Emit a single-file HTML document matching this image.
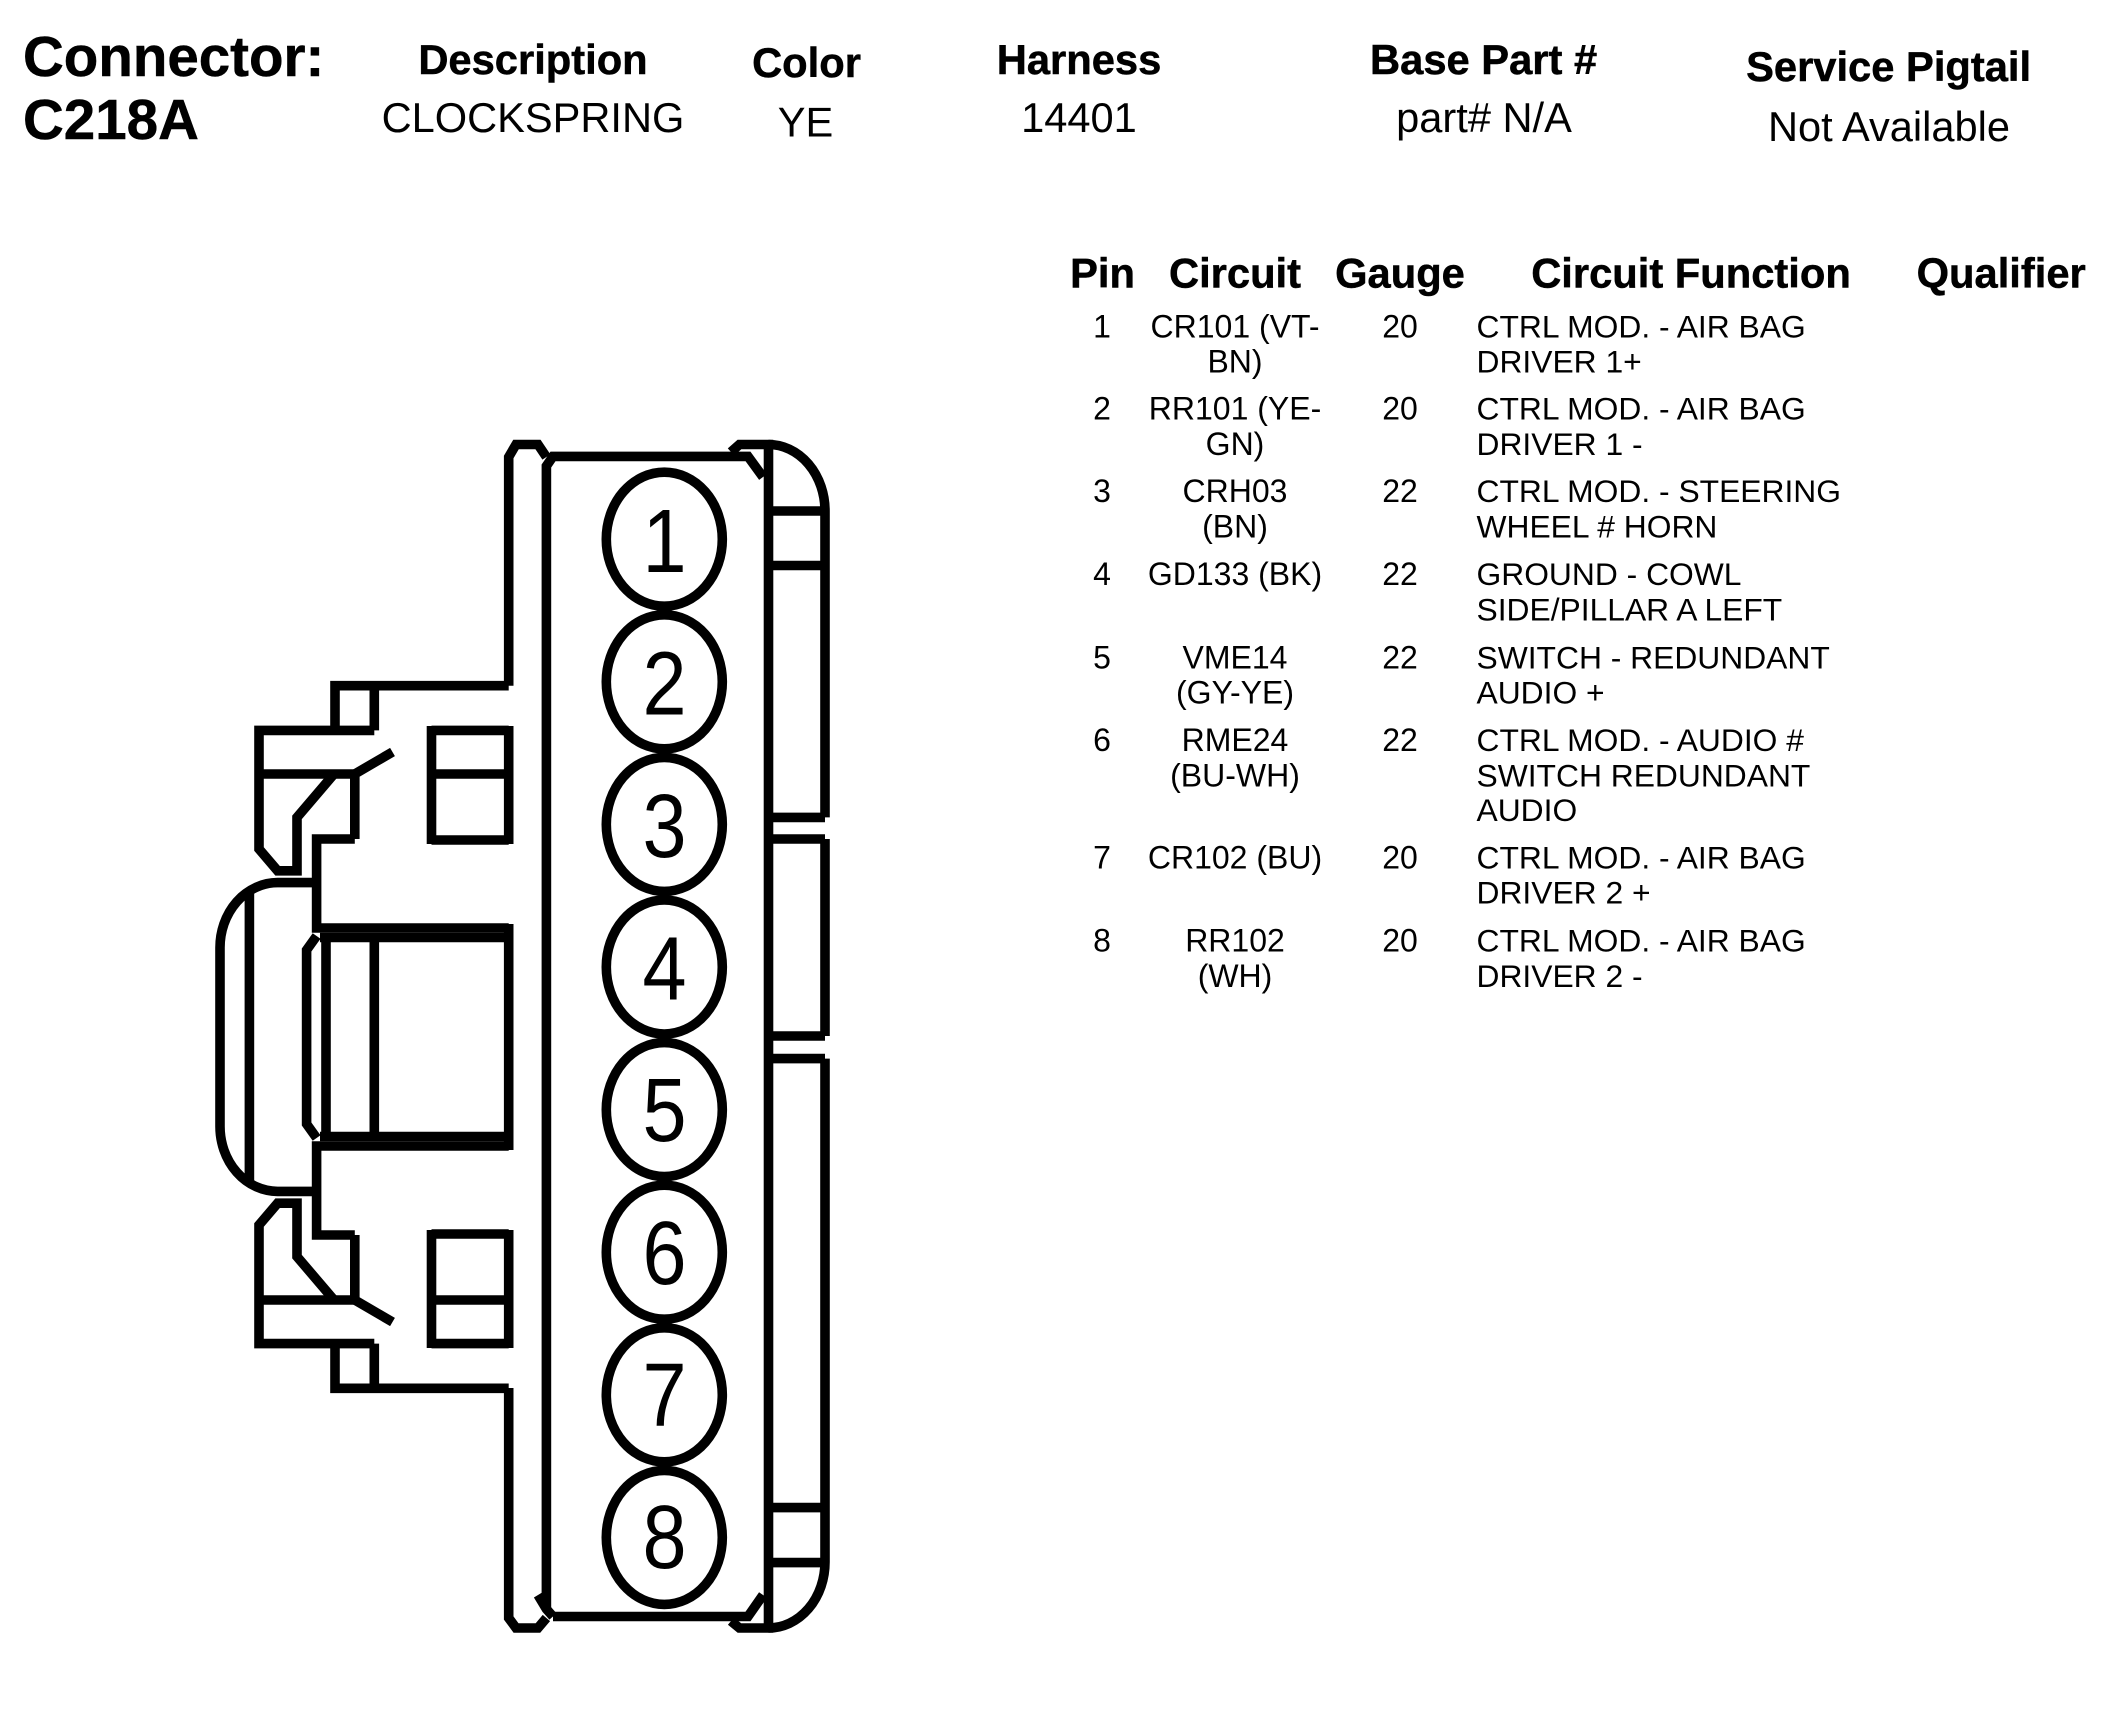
<!DOCTYPE html>
<html>
<head>
<meta charset="utf-8">
<title>Connector C218A</title>
<style>
html,body{margin:0;padding:0;background:#fff;width:2112px;height:1719px;overflow:hidden}
svg{display:block}
text{font-family:"Liberation Sans",sans-serif;fill:#000}
.b{font-weight:bold;stroke:#000;stroke-width:.5}
.h{font-size:41.7px;font-weight:bold;text-anchor:middle;stroke:#000;stroke-width:.5}
.v{font-size:41.6px;text-anchor:middle}
.t{font-size:31.8px}
.c{font-size:32px;text-anchor:middle}
.d{font-size:90px;text-anchor:middle}
.s path,.s ellipse{fill:none;stroke:#000;stroke-width:9.6;stroke-linejoin:miter;stroke-linecap:butt}
</style>
</head>
<body>
<svg width="2112" height="1719" viewBox="0 0 2112 1719" xmlns="http://www.w3.org/2000/svg">
<rect width="2112" height="1719" fill="#fff"/>

<text x="23" y="76" class="b" font-size="56.5">Connector:</text>
<text x="23" y="139" class="b" font-size="56.5">C218A</text>
<text x="533" y="74" class="h">Description</text>
<text x="533" y="132" class="v">CLOCKSPRING</text>
<text x="806.5" y="77" class="h">Color</text>
<text x="805.5" y="136.5" class="v">YE</text>
<text x="1079" y="74" class="h">Harness</text>
<text x="1079" y="132" class="v">14401</text>
<text x="1483.6" y="74" class="h">Base Part #</text>
<text x="1484" y="132" class="v">part# N/A</text>
<text x="1888.6" y="81" class="h">Service Pigtail</text>
<text x="1889" y="141" class="v">Not Available</text>

<text x="1102.5" y="287.5" class="h">Pin</text>
<text x="1235" y="287.5" class="h">Circuit</text>
<text x="1400" y="287.5" class="h">Gauge</text>
<text x="1691" y="287.5" class="h">Circuit Function</text>
<text x="2001.2" y="287.5" class="h">Qualifier</text>

<text x="1102" y="337.5" class="c">1</text>
<text x="1235" y="337.5" class="c">CR101 (VT-</text><text x="1235" y="372.5" class="c">BN)</text>
<text x="1400" y="337.5" class="c">20</text>
<text x="1476.5" y="337.5" class="t">CTRL MOD. - AIR BAG</text><text x="1476.5" y="372.5" class="t">DRIVER 1+</text>

<text x="1102" y="419.5" class="c">2</text>
<text x="1235" y="419.5" class="c">RR101 (YE-</text><text x="1235" y="455" class="c">GN)</text>
<text x="1400" y="419.5" class="c">20</text>
<text x="1476.5" y="419.5" class="t">CTRL MOD. - AIR BAG</text><text x="1476.5" y="455" class="t">DRIVER 1 -</text>

<text x="1102" y="502" class="c">3</text>
<text x="1235" y="502" class="c">CRH03</text><text x="1235" y="537.5" class="c">(BN)</text>
<text x="1400" y="502" class="c">22</text>
<text x="1476.5" y="502" class="t">CTRL MOD. - STEERING</text><text x="1476.5" y="537.5" class="t">WHEEL # HORN</text>

<text x="1102" y="585" class="c">4</text>
<text x="1235" y="585" class="c">GD133 (BK)</text>
<text x="1400" y="585" class="c">22</text>
<text x="1476.5" y="585" class="t">GROUND - COWL</text><text x="1476.5" y="620.5" class="t">SIDE/PILLAR A LEFT</text>

<text x="1102" y="668.5" class="c">5</text>
<text x="1235" y="668.5" class="c">VME14</text><text x="1235" y="703.5" class="c">(GY-YE)</text>
<text x="1400" y="668.5" class="c">22</text>
<text x="1476.5" y="668.5" class="t">SWITCH - REDUNDANT</text><text x="1476.5" y="703.5" class="t">AUDIO +</text>

<text x="1102" y="751" class="c">6</text>
<text x="1235" y="751" class="c">RME24</text><text x="1235" y="786.5" class="c">(BU-WH)</text>
<text x="1400" y="751" class="c">22</text>
<text x="1476.5" y="751" class="t">CTRL MOD. - AUDIO #</text><text x="1476.5" y="786.5" class="t">SWITCH REDUNDANT</text><text x="1476.5" y="821" class="t">AUDIO</text>

<text x="1102" y="868.5" class="c">7</text>
<text x="1235" y="868.5" class="c">CR102 (BU)</text>
<text x="1400" y="868.5" class="c">20</text>
<text x="1476.5" y="868.5" class="t">CTRL MOD. - AIR BAG</text><text x="1476.5" y="903.5" class="t">DRIVER 2 +</text>

<text x="1102" y="951.5" class="c">8</text>
<text x="1235" y="951.5" class="c">RR102</text><text x="1235" y="987" class="c">(WH)</text>
<text x="1400" y="951.5" class="c">20</text>
<text x="1476.5" y="951.5" class="t">CTRL MOD. - AIR BAG</text><text x="1476.5" y="987" class="t">DRIVER 2 -</text>

<g class="s">
  <!-- pin cavities -->
  <ellipse cx="664.3" cy="539.2" rx="58" ry="67"/>
  <ellipse cx="664.3" cy="681.8" rx="58" ry="67"/>
  <ellipse cx="664.3" cy="824.4" rx="58" ry="67"/>
  <ellipse cx="664.3" cy="967" rx="58" ry="67"/>
  <ellipse cx="664.3" cy="1109.6" rx="58" ry="67"/>
  <ellipse cx="664.3" cy="1252.2" rx="58" ry="67"/>
  <ellipse cx="664.3" cy="1394.8" rx="58" ry="67"/>
  <ellipse cx="664.3" cy="1537.4" rx="58" ry="67"/>

  <!-- main body -->
  <path d="M546.4,1609 V466 L553,456.4 H748 L763,477"/>
  <path d="M553,1616.5 H748 L763,1595"/>
  <path d="M538,1595 L546.4,1609 L553,1616.5"/>
  <path d="M508.7,685.7 V457 L516,444.5 H538 L546.4,457"/>
  <path d="M508.7,1388 V1618 L516,1628 H538 L546.4,1618"/>
  <path d="M731,452 L739.4,444.5 H768.5 V1628 H739.4 L731,1621"/>

  <!-- right side ribs -->
  <path d="M768.5,444.5 A56.5,66.5 0 0 1 825,511"/>
  <path d="M768.5,1628 A56.5,66 0 0 0 825,1562"/>
  <path d="M768.5,511 H825 M768.5,565.5 H825"/>
  <path d="M825,511 V817.4 M768.5,817.4 H825"/>
  <path d="M768.5,839 H825 M825,839 V1036 M768.5,1036 H825"/>
  <path d="M768.5,1058.6 H825 M825,1058.6 V1562 M768.5,1507.6 H825 M768.5,1562.6 H825"/>

  <!-- upper latch -->
  <path d="M335,730.4 V685.7 H508.7"/>
  <path d="M374.3,685.7 V730.4"/>
  <path d="M374.3,730.4 H259 V849 L277.6,870.8 H297 V817.4 L334,774"/>
  <path d="M259,774 H354.8"/>
  <path d="M354.8,839 V774 L392.5,752"/>
  <path d="M354.8,839 H316.6 V928 H508.7"/>
  <path d="M431.5,730.4 H508.7 M431.5,774 H508.7 M431.5,840 H508.7 M431.5,726 V844 M508.7,726 V844"/>

  <!-- lower latch -->
  <path d="M335,1343.6 V1388.3 H508.7"/>
  <path d="M374.3,1388.3 V1343.6"/>
  <path d="M374.3,1343.6 H259 V1225 L277.6,1203.2 H297 V1256.6 L334,1300"/>
  <path d="M259,1300 H354.8"/>
  <path d="M354.8,1235 V1300 L392.5,1322"/>
  <path d="M354.8,1235 H316.6 V1146 H508.7"/>
  <path d="M431.5,1343.6 H508.7 M431.5,1300 H508.7 M431.5,1234 H508.7 M431.5,1348 V1230 M508.7,1348 V1230"/>

  <!-- centre window -->
  <path d="M508.7,924 V1150"/>
  <path d="M320,937.5 H508.7 M320,1136.5 H508.7"/>
  <path d="M326,937.5 V1136.5 M374.3,937.5 V1136.5"/>
  <path d="M316.6,936 L306.6,950 V1124 L316.6,1138"/>

  <!-- left tab -->
  <path d="M316.6,882.6 H277.6 A57.6,65 0 0 0 220,948 V1126 A57.6,65 0 0 0 277.6,1191.4 H316.6"/>
  <path d="M249.4,891 V1183"/>
</g>

<text class="d" transform="translate(664.5,572) scale(.88,1)">1</text>
<text class="d" transform="translate(664.5,714.5) scale(.88,1)">2</text>
<text class="d" transform="translate(664.5,857) scale(.88,1)">3</text>
<text class="d" transform="translate(664.5,999.3) scale(.88,1)">4</text>
<text class="d" transform="translate(664.5,1141) scale(.88,1)">5</text>
<text class="d" transform="translate(664.5,1284) scale(.88,1)">6</text>
<text class="d" transform="translate(664.5,1426) scale(.88,1)">7</text>
<text class="d" transform="translate(664.5,1568) scale(.88,1)">8</text>
</svg>
</body>
</html>
